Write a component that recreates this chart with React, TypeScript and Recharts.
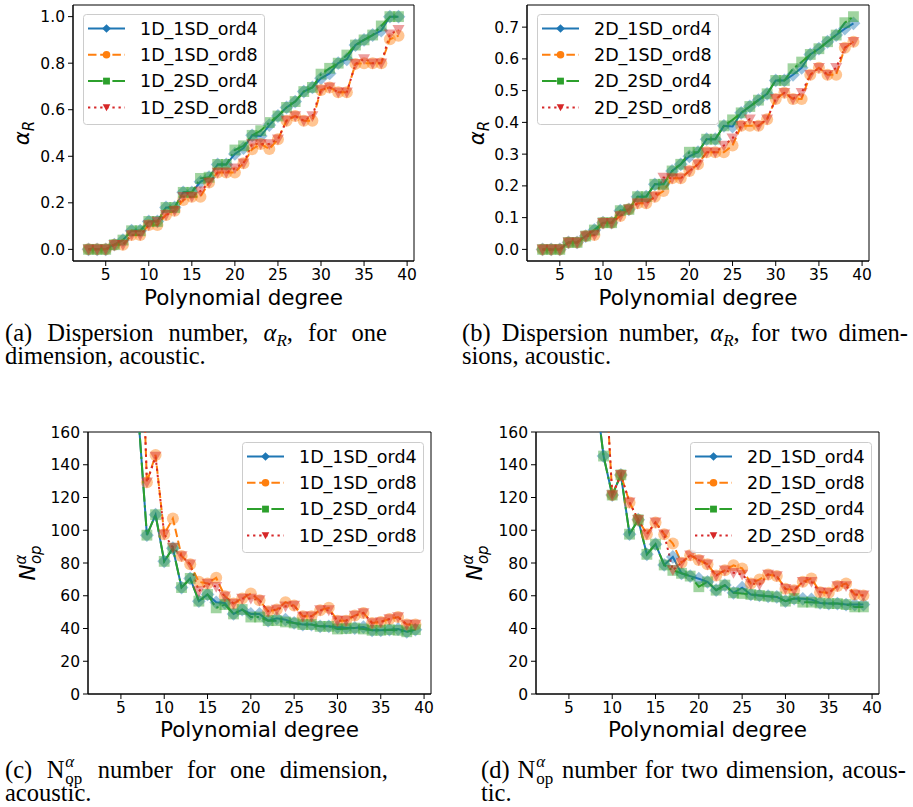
import React from "react";
import { LineChart, Line, XAxis, YAxis, ReferenceArea, Legend } from "recharts";

// polynomial degrees on the x axis
const degrees = [3, 4, 5, 6, 7, 8, 9, 10, 11, 12, 13, 14, 15, 16, 17, 18, 19, 20, 21, 22, 23, 24, 25, 26, 27, 28, 29, 30, 31, 32, 33, 34, 35, 36, 37, 38, 39];

// (a) dispersion number, one dimension
const alpha1D_1SD_ord4 = [0, 0, 0, 0.02, 0.04, 0.08, 0.08, 0.12, 0.12, 0.18, 0.18, 0.245, 0.245, 0.29, 0.31, 0.365, 0.365, 0.41, 0.435, 0.49, 0.487, 0.534, 0.573, 0.61, 0.635, 0.678, 0.696, 0.735, 0.756, 0.8, 0.817, 0.878, 0.9, 0.921, 0.94, 1.0, 1.0];
const alpha1D_1SD_ord8 = [0, 0, 0, 0.02, 0.02, 0.062, 0.062, 0.105, 0.105, 0.148, 0.166, 0.212, 0.226, 0.226, 0.287, 0.33, 0.33, 0.33, 0.37, 0.43, 0.453, 0.431, 0.473, 0.553, 0.573, 0.553, 0.553, 0.685, 0.696, 0.675, 0.675, 0.797, 0.8, 0.8, 0.8, 0.903, 0.918];
const alpha1D_2SD_ord4 = [0, 0, 0, 0.02, 0.04, 0.08, 0.08, 0.12, 0.12, 0.18, 0.18, 0.245, 0.245, 0.305, 0.31, 0.365, 0.365, 0.427, 0.445, 0.49, 0.51, 0.545, 0.573, 0.61, 0.635, 0.678, 0.696, 0.753, 0.778, 0.8, 0.835, 0.878, 0.9, 0.921, 0.96, 1.0, 1.0];
const alpha1D_2SD_ord8 = [0, 0, 0, 0.02, 0.02, 0.062, 0.062, 0.105, 0.119, 0.148, 0.166, 0.226, 0.226, 0.25, 0.287, 0.33, 0.33, 0.348, 0.37, 0.453, 0.453, 0.453, 0.473, 0.553, 0.573, 0.553, 0.573, 0.685, 0.696, 0.675, 0.675, 0.797, 0.818, 0.8, 0.8, 0.924, 0.943];

// (b) dispersion number, two dimensions
const alpha2D_1SD_ord4 = [0, 0, 0, 0.022, 0.022, 0.042, 0.061, 0.084, 0.084, 0.122, 0.126, 0.166, 0.166, 0.205, 0.205, 0.247, 0.268, 0.293, 0.306, 0.347, 0.347, 0.389, 0.387, 0.43, 0.45, 0.47, 0.49, 0.532, 0.532, 0.55, 0.572, 0.614, 0.632, 0.654, 0.675, 0.695, 0.712];
const alpha2D_1SD_ord8 = [0, 0, 0, 0.022, 0.022, 0.042, 0.045, 0.084, 0.084, 0.105, 0.126, 0.145, 0.145, 0.166, 0.184, 0.224, 0.224, 0.247, 0.268, 0.306, 0.306, 0.306, 0.327, 0.389, 0.389, 0.389, 0.41, 0.474, 0.493, 0.474, 0.474, 0.55, 0.572, 0.55, 0.55, 0.635, 0.654];
const alpha2D_2SD_ord4 = [0, 0, 0, 0.022, 0.022, 0.042, 0.061, 0.084, 0.084, 0.122, 0.126, 0.166, 0.166, 0.205, 0.205, 0.247, 0.268, 0.306, 0.306, 0.347, 0.347, 0.389, 0.408, 0.43, 0.45, 0.47, 0.49, 0.532, 0.532, 0.569, 0.59, 0.614, 0.632, 0.654, 0.675, 0.714, 0.733];
const alpha2D_2SD_ord8 = [0, 0, 0, 0.022, 0.022, 0.042, 0.045, 0.084, 0.084, 0.105, 0.126, 0.145, 0.145, 0.166, 0.226, 0.224, 0.224, 0.247, 0.268, 0.306, 0.306, 0.327, 0.35, 0.389, 0.41, 0.389, 0.41, 0.474, 0.493, 0.474, 0.493, 0.55, 0.572, 0.55, 0.572, 0.635, 0.654];

// (c) N_op^alpha, one dimension (first points sit above the plotted range)
const nop1D_1SD_ord4 = [null, null, null, null, 171, 97, 109.5, 81, 89, 65, 70.6, 56.7, 60.8, 56, 55.6, 48.9, 51.6, 48.9, 48.9, 44.8, 46.2, 45.4, 43.4, 42.4, 42.4, 41.3, 41.3, 40.9, 40.5, 40.3, 40.9, 38.9, 38.9, 39.3, 39.7, 38, 39.3];
const nop1D_1SD_ord8 = [null, null, null, null, 284, 129.3, 146, 97.6, 107.2, 84.3, 79.2, 68.5, 67.5, 71, 59.7, 55.2, 58.3, 61.4, 57.3, 50.5, 51.6, 56.1, 54, 47.5, 47.5, 51.2, 52.6, 44.8, 44.8, 47.9, 49.5, 43.4, 44, 45.8, 47, 42.4, 42.4];
const nop1D_2SD_ord4 = [null, null, null, null, 171, 97, 109.5, 81, 89, 65, 70.6, 56.7, 60.8, 52.6, 54.6, 48.9, 51.6, 47, 47, 44.8, 44.8, 44, 43.4, 42.4, 42.4, 41.3, 41.3, 39.7, 39.9, 40.3, 39.7, 38.9, 38.9, 39.3, 38.9, 38, 39.3];
const nop1D_2SD_ord8 = [null, null, null, null, 284, 129.3, 145, 97.6, 89.4, 84.3, 79.2, 62.8, 67.5, 65.5, 59.7, 55.2, 58.3, 58.3, 57.3, 50.5, 51.6, 53.6, 54, 47.5, 47.5, 51.2, 51.2, 44.8, 44.8, 47.9, 49.5, 43.4, 44, 45.8, 47, 42.4, 42.4];

// (d) N_op^alpha, two dimensions
const nop2D_1SD_ord4 = [null, null, null, null, null, 188, 145.3, 121.5, 133.8, 97.6, 106.4, 85.3, 91.5, 78.8, 83.7, 73.7, 72, 70.4, 68.5, 63.4, 66.5, 61.8, 64.9, 60.8, 60.2, 59.7, 59.3, 56.7, 58.3, 58.1, 57.7, 55.6, 55.2, 55.2, 54.6, 54.6, 54.6];
const nop2D_1SD_ord8 = [null, null, null, null, null, null, 217, 121.5, 133.8, 117, 106.4, 97.6, 104.8, 97.6, 91.9, 80.2, 84.7, 81.8, 79.2, 72.4, 75.5, 78.6, 76.7, 67.5, 70, 73, 72, 64.2, 63.4, 68.5, 70.6, 62.2, 61.8, 65.9, 67.5, 60.8, 60.2];
const nop2D_2SD_ord4 = [null, null, null, null, null, 188, 145.3, 121.5, 133.8, 97.6, 106.4, 85.3, 91.5, 78.8, 75.5, 73.7, 72, 65.5, 68.5, 63.4, 66.5, 61.8, 61.4, 60.8, 60.2, 59.7, 59.3, 56.7, 58.3, 56.1, 56.1, 55.6, 55.2, 55.2, 54.6, 53.2, 53.2];
const nop2D_2SD_ord8 = [null, null, null, null, null, null, 217, 121.5, 133.8, 117, 106.4, 97.6, 104.8, 97.6, 75.7, 80.2, 84.7, 81.8, 79.2, 72.4, 75.5, 74, 73, 67.5, 66.9, 73, 72, 64.2, 63.4, 68.5, 68.5, 62.2, 61.8, 65.9, 65.9, 60.8, 60.2];

const names1D = ["1D_1SD_ord4", "1D_1SD_ord8", "1D_2SD_ord4", "1D_2SD_ord8"];
const names2D = ["2D_1SD_ord4", "2D_1SD_ord8", "2D_2SD_ord4", "2D_2SD_ord8"];

const xTicks = [5, 10, 15, 20, 25, 30, 35, 40];
const alpha1DTicks = [0, 0.2, 0.4, 0.6, 0.8, 1.0];
const alpha2DTicks = [0, 0.1, 0.2, 0.3, 0.4, 0.5, 0.6, 0.7];
const nopTicks = [0, 20, 40, 60, 80, 100, 120, 140, 160];

type Shape = "diamond" | "circle" | "square" | "triangle";

// matplotlib tab10 colours, '-', '--', '-.', ':' line styles
const seriesStyle: { color: string; dash?: string; shape: Shape }[] = [
  { color: "#1f77b4", shape: "diamond" },
  { color: "#ff7f0e", dash: "8.5 3.7", shape: "circle" },
  { color: "#2ca02c", dash: "14.7 3.7 2.3 3.7", shape: "square" },
  { color: "#d62728", dash: "2.3 3.8", shape: "triangle" },
];

function Marker({ cx, cy, s, color, shape, opacity }: { cx: number; cy: number; s: number; color: string; shape: Shape; opacity: number }) {
  if (shape === "circle") return <circle cx={cx} cy={cy} r={s} fill={color} fillOpacity={opacity} />;
  if (shape === "square")
    return <rect x={cx - s * 0.9} y={cy - s * 0.9} width={s * 1.8} height={s * 1.8} fill={color} fillOpacity={opacity} />;
  if (shape === "diamond") {
    const d = s * 1.15;
    return <polygon points={`${cx},${cy - d} ${cx + d},${cy} ${cx},${cy + d} ${cx - d},${cy}`} fill={color} fillOpacity={opacity} />;
  }
  return (
    <polygon
      points={`${cx - s},${cy - s * 0.8} ${cx + s},${cy - s * 0.8} ${cx},${cy + s}`}
      fill={color}
      fillOpacity={opacity}
    />
  );
}

function LegendBox({ names }: { names: string[] }) {
  return (
    <svg width={182} height={111} style={{ display: "block" }}>
      <rect x={0.5} y={0.5} width={181} height={110} rx={3} fill="#fff" fillOpacity={0.8} stroke="#ccc" />
      {names.map((n, i) => {
        const y = 14.5 + i * 26.3;
        const st = seriesStyle[i];
        return (
          <g key={n}>
            <line x1={5} x2={42} y1={y} y2={y} stroke={st.color} strokeWidth={2} strokeDasharray={st.dash} />
            <Marker cx={23.5} cy={y} s={3.8} color={st.color} shape={st.shape} opacity={1} />
            <text x={57} y={y} dy="0.36em" fontSize={17.5} fill="#000">
              {n}
            </text>
          </g>
        );
      })}
    </svg>
  );
}

interface PanelProps {
  left: number;
  top: number;
  height: number;
  margin: { top: number; right: number };
  yAxisWidth: number;
  xAxisHeight: number;
  labelOffset: number;
  series: (number | null)[][];
  names: string[];
  yDomain: [number, number];
  yTicks: number[];
  yFormat: (v: number) => string;
  yLabel: "alpha" | "nop";
  labelX: number;
  legend: { left: number; top: number };
}

function Panel(p: PanelProps) {
  const width = 456;
  const rows = degrees.map((degree, i) => ({
    degree,
    s0: p.series[0][i],
    s1: p.series[1][i],
    s2: p.series[2][i],
    s3: p.series[3][i],
  }));
  const plotHeight = p.height - p.margin.top - p.xAxisHeight;
  const labelY = p.margin.top + plotHeight / 2;

  const yTitle = () => (
    <text
      transform={`rotate(-90 ${p.labelX} ${labelY})`}
      x={p.labelX}
      y={labelY}
      textAnchor="middle"
      fontSize={21.5}
      fontStyle="italic"
      fill="#000"
    >
      {p.yLabel === "alpha" ? (
        <>
          α<tspan fontSize={15} dy={4.5}>R</tspan>
        </>
      ) : (
        <>
          N<tspan fontSize={15} dy={-9}>α</tspan>
          <tspan fontSize={15} dx={-9.5} dy={15}>op</tspan>
        </>
      )}
    </text>
  );

  return (
    <div style={{ position: "absolute", left: p.left, top: p.top }}>
      <LineChart
        width={width}
        height={p.height}
        data={rows}
        margin={{ top: p.margin.top, right: p.margin.right, bottom: 0, left: 0 }}
      >
        <XAxis
          dataKey="degree"
          type="number"
          domain={[1.2, 40.8]}
          allowDataOverflow
          ticks={xTicks}
          height={p.xAxisHeight}
          tickSize={5}
          tickMargin={3}
          stroke="#000"
          tick={{ fontSize: 15.5, fill: "#000" }}
          label={{ value: "Polynomial degree", position: "insideBottom", offset: p.labelOffset, fontSize: 21.5, fill: "#000" }}
        />
        <YAxis
          type="number"
          domain={p.yDomain}
          allowDataOverflow
          ticks={p.yTicks}
          width={p.yAxisWidth}
          tickSize={5}
          tickMargin={3}
          stroke="#000"
          tick={{ fontSize: 15.5, fill: "#000" }}
          tickFormatter={p.yFormat}
          label={yTitle}
        />
        <ReferenceArea x1={1.2} x2={40.8} y1={p.yDomain[0]} y2={p.yDomain[1]} fill="none" stroke="#000" strokeWidth={1} />
        {seriesStyle.map((st, i) => (
          <Line
            key={p.names[i]}
            dataKey={`s${i}`}
            name={p.names[i]}
            stroke={st.color}
            strokeWidth={2}
            strokeDasharray={st.dash}
            isAnimationActive={false}
            dot={(d: any) =>
              d.cx == null || d.cy == null || d.value == null ? (
                <g key={`e-${i}-${d.index}`} />
              ) : (
                <Marker key={`m-${i}-${d.index}`} cx={d.cx} cy={d.cy} s={6} color={st.color} shape={st.shape} opacity={0.45} />
              )
            }
            activeDot={false}
          />
        ))}
        <Legend
          layout="vertical"
          align="center"
          verticalAlign="middle"
          wrapperStyle={{ left: p.legend.left, top: p.legend.top, width: 182, height: 111 }}
          content={() => <LegendBox names={p.names} />}
        />
      </LineChart>
    </div>
  );
}

const capFont: React.CSSProperties = {
  position: "absolute",
  fontFamily: "'Liberation Serif', serif",
  fontSize: 24.5,
  lineHeight: "24px",
  color: "#000",
  whiteSpace: "nowrap",
};

function CapLine({ left, top, width, children }: { left: number; top: number; width?: number; children: React.ReactNode }) {
  const justify = width !== undefined;
  return (
    <div
      style={{
        ...capFont,
        left,
        top,
        width,
        whiteSpace: justify ? "normal" : "nowrap",
        textAlign: justify ? "justify" : "left",
        textAlignLast: justify ? "justify" : "auto",
      }}
    >
      {children}
    </div>
  );
}

const AlphaR = () => (
  <span>
    <i>α</i>
    <i style={{ fontSize: 17, verticalAlign: -5, lineHeight: 0 }}>R</i>
  </span>
);

const NopAlpha = () => (
  <span>
    N
    <span style={{ display: "inline-block", position: "relative", width: 19, height: 0 }}>
      <i style={{ position: "absolute", left: 1, top: -26, fontSize: 17, lineHeight: "normal" }}>α</i>
      <span style={{ position: "absolute", left: 1, top: -9, fontSize: 17, lineHeight: "normal" }}>op</span>
    </span>
  </span>
);

export default function App() {
  return (
    <div
      style={{
        position: "absolute",
        left: 0,
        top: 0,
        width: 913,
        height: 807,
        background: "#fff",
        fontFamily: "'DejaVu Sans', sans-serif",
        overflow: "hidden",
      }}
    >
      <Panel
        left={0}
        top={0}
        height={320}
        margin={{ top: 5, right: 42 }}
        yAxisWidth={73}
        xAxisHeight={59}
        labelOffset={15}
        series={[alpha1D_1SD_ord4, alpha1D_1SD_ord8, alpha1D_2SD_ord4, alpha1D_2SD_ord8]}
        names={names1D}
        yDomain={[-0.05, 1.05]}
        yTicks={alpha1DTicks}
        yFormat={(v) => v.toFixed(1)}
        yLabel="alpha"
        labelX={29}
        legend={{ left: 83, top: 14 }}
      />
      <Panel
        left={455}
        top={0}
        height={320}
        margin={{ top: 5, right: 42 }}
        yAxisWidth={72}
        xAxisHeight={59}
        labelOffset={15}
        series={[alpha2D_1SD_ord4, alpha2D_1SD_ord8, alpha2D_2SD_ord4, alpha2D_2SD_ord8]}
        names={names2D}
        yDomain={[-0.0366, 0.7697]}
        yTicks={alpha2DTicks}
        yFormat={(v) => v.toFixed(1)}
        yLabel="alpha"
        labelX={29}
        legend={{ left: 82, top: 14 }}
      />
      <Panel
        left={0}
        top={420}
        height={330}
        margin={{ top: 12, right: 25 }}
        yAxisWidth={88}
        xAxisHeight={56}
        labelOffset={13}
        series={[nop1D_1SD_ord4, nop1D_1SD_ord8, nop1D_2SD_ord4, nop1D_2SD_ord8]}
        names={names1D}
        yDomain={[0, 160]}
        yTicks={nopTicks}
        yFormat={(v) => String(v)}
        yLabel="nop"
        labelX={35}
        legend={{ left: 242, top: 22 }}
      />
      <Panel
        left={455}
        top={420}
        height={330}
        margin={{ top: 12, right: 32 }}
        yAxisWidth={81}
        xAxisHeight={56}
        labelOffset={13}
        series={[nop2D_1SD_ord4, nop2D_1SD_ord8, nop2D_2SD_ord4, nop2D_2SD_ord8]}
        names={names2D}
        yDomain={[0, 160]}
        yTicks={nopTicks}
        yFormat={(v) => String(v)}
        yLabel="nop"
        labelX={27}
        legend={{ left: 235, top: 22 }}
      />

      <CapLine left={5} top={321} width={382}>
        (a) Dispersion number, <AlphaR />, for one
      </CapLine>
      <CapLine left={5} top={343.5}>dimension, acoustic.</CapLine>
      <CapLine left={462} top={321} width={446}>
        (b) Dispersion number, <AlphaR />, for two dimen-
      </CapLine>
      <CapLine left={462} top={343.5}>sions, acoustic.</CapLine>

      <CapLine left={5} top={758} width={383}>
        (c) <NopAlpha /> number for one dimension,
      </CapLine>
      <CapLine left={5} top={780.5}>acoustic.</CapLine>
      <CapLine left={481} top={758} width={425}>
        (d) <NopAlpha /> number for two dimension, acous-
      </CapLine>
      <CapLine left={481} top={780.5}>tic.</CapLine>
    </div>
  );
}
